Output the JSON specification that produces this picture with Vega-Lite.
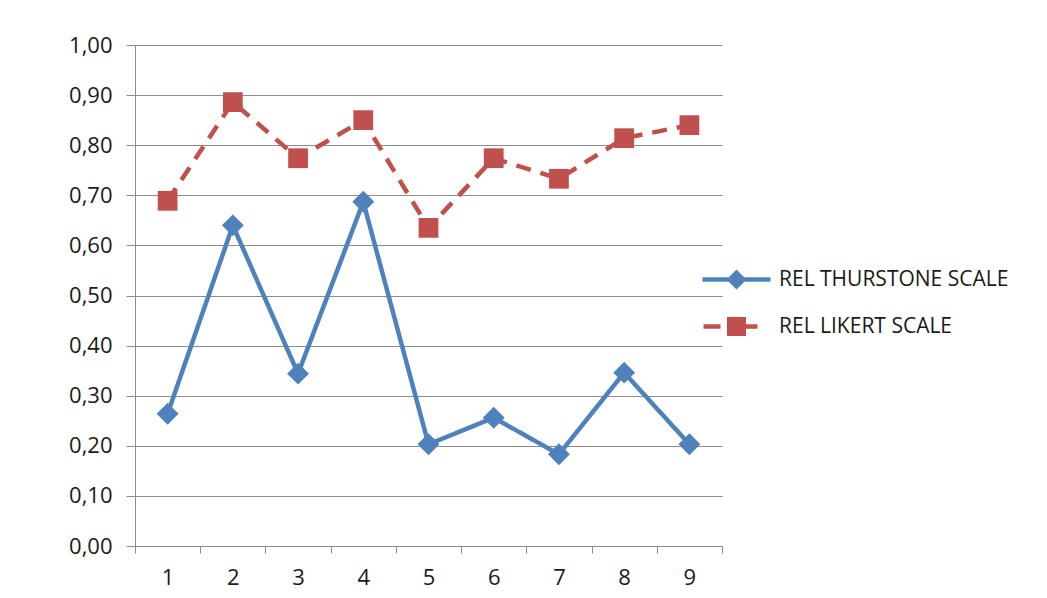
{
  "$schema": "https://vega.github.io/schema/vega-lite/v6.json",
  "width": 587,
  "height": 501,
  "autosize": "none",
  "padding": {"left": 135, "top": 45, "right": 325, "bottom": 52},
  "background": "white",
  "config": {
    "view": {"stroke": null},
    "font": "Open Sans",
    "locale": {"number": {"decimal": ",", "thousands": ".", "grouping": [3], "currency": ["", " €"]}}
  },
  "data": {
    "values": [
      {"x": 1, "series": "REL THURSTONE SCALE", "value": 0.264},
      {"x": 2, "series": "REL THURSTONE SCALE", "value": 0.640},
      {"x": 3, "series": "REL THURSTONE SCALE", "value": 0.344},
      {"x": 4, "series": "REL THURSTONE SCALE", "value": 0.687},
      {"x": 5, "series": "REL THURSTONE SCALE", "value": 0.203},
      {"x": 6, "series": "REL THURSTONE SCALE", "value": 0.256},
      {"x": 7, "series": "REL THURSTONE SCALE", "value": 0.183},
      {"x": 8, "series": "REL THURSTONE SCALE", "value": 0.346},
      {"x": 9, "series": "REL THURSTONE SCALE", "value": 0.203},
      {"x": 1, "series": "REL LIKERT SCALE", "value": 0.689},
      {"x": 2, "series": "REL LIKERT SCALE", "value": 0.886},
      {"x": 3, "series": "REL LIKERT SCALE", "value": 0.774},
      {"x": 4, "series": "REL LIKERT SCALE", "value": 0.850},
      {"x": 5, "series": "REL LIKERT SCALE", "value": 0.635},
      {"x": 6, "series": "REL LIKERT SCALE", "value": 0.774},
      {"x": 7, "series": "REL LIKERT SCALE", "value": 0.733},
      {"x": 8, "series": "REL LIKERT SCALE", "value": 0.814},
      {"x": 9, "series": "REL LIKERT SCALE", "value": 0.840}
    ]
  },
  "encoding": {
    "x": {
      "field": "x", "type": "ordinal",
      "scale": {"type": "band", "paddingInner": 0, "paddingOuter": 0},
      "axis": {
        "title": null, "labelAngle": 0, "grid": false,
        "tickBand": "extent", "tickSize": 7, "tickColor": "#8c8c8c",
        "domainColor": "#8c8c8c", "labelFontSize": 22, "labelColor": "#1a1a1a",
        "labelPadding": 14, "labelFont": "Open Sans"
      }
    },
    "y": {
      "field": "value", "type": "quantitative",
      "scale": {"domain": [0, 1], "nice": false, "zero": true},
      "axis": {
        "title": null, "values": [0, 0.1, 0.2, 0.3, 0.4, 0.5, 0.6, 0.7, 0.8, 0.9, 1.0],
        "format": ".2f", "grid": true, "gridColor": "#8c8c8c", "gridWidth": 1,
        "tickSize": 9, "tickColor": "#8c8c8c", "domainColor": "#8c8c8c",
        "labelFontSize": 22, "labelColor": "#1a1a1a", "labelPadding": 14, "labelFont": "Open Sans"
      }
    }
  },
  "layer": [
    {
      "mark": {"type": "line", "strokeWidth": 4.5, "strokeCap": "butt"},
      "encoding": {
        "color": {"field": "series", "type": "nominal", "legend": null,
          "scale": {"domain": ["REL THURSTONE SCALE", "REL LIKERT SCALE"], "range": ["#4F81BD", "#C0504D"]}},
        "strokeDash": {"field": "series", "type": "nominal", "legend": null,
          "scale": {"domain": ["REL THURSTONE SCALE", "REL LIKERT SCALE"], "range": [[1, 0], [15, 10]]}}
      }
    },
    {
      "mark": {"type": "point", "filled": true, "opacity": 1, "strokeWidth": 0},
      "encoding": {
        "color": {"field": "series", "type": "nominal", "legend": null,
          "scale": {"domain": ["REL THURSTONE SCALE", "REL LIKERT SCALE"], "range": ["#4F81BD", "#C0504D"]}},
        "shape": {"field": "series", "type": "nominal", "legend": null,
          "scale": {"domain": ["REL THURSTONE SCALE", "REL LIKERT SCALE"], "range": ["diamond", "square"]}},
        "size": {"field": "series", "type": "nominal", "legend": null,
          "scale": {"domain": ["REL THURSTONE SCALE", "REL LIKERT SCALE"], "range": [480, 390]}}
      }
    },
    {
      "mark": {"type": "point", "filled": true, "opacity": 0, "size": 400},
      "encoding": {
        "color": {"field": "series", "type": "nominal",
          "scale": {"domain": ["REL THURSTONE SCALE", "REL LIKERT SCALE"], "range": ["#4F81BD", "#C0504D"]},
          "legend": {
            "title": null, "orient": "none", "legendX": 591, "legendY": 224,
            "padding": 0, "labelFont": "Open Sans", "labelFontSize": 21, "labelColor": "#1a1a1a",
            "labelOffset": 32, "rowPadding": 25, "symbolSize": 400, "symbolOpacity": 1,
            "symbolStrokeWidth": 0, "labelLimit": 400
          }},
        "shape": {"field": "series", "type": "nominal",
          "scale": {"domain": ["REL THURSTONE SCALE", "REL LIKERT SCALE"],
            "range": [
              "M-3.4,-0.22L3.4,-0.22L3.4,0.22L-3.4,0.22ZM0,-1L1,0L0,1L-1,0Z",
              "M-3.3,-0.22L-1.6,-0.22L-1.6,0.22L-3.3,0.22ZM-0.95,-0.95L0.95,-0.95L0.95,0.95L-0.95,0.95ZM0.95,-0.22L2.1,-0.22L2.1,0.22L0.95,0.22Z"
            ]},
          "legend": {
            "title": null, "orient": "none", "legendX": 591, "legendY": 224,
            "padding": 0, "labelFont": "Open Sans", "labelFontSize": 21, "labelColor": "#1a1a1a",
            "labelOffset": 32, "rowPadding": 25, "symbolSize": 400, "symbolOpacity": 1,
            "symbolStrokeWidth": 0, "labelLimit": 400
          }}
      }
    }
  ],
  "resolve": {
    "scale": {"color": "independent", "shape": "independent", "strokeDash": "independent", "size": "independent"},
    "legend": {"color": "independent", "shape": "independent"}
  }
}
